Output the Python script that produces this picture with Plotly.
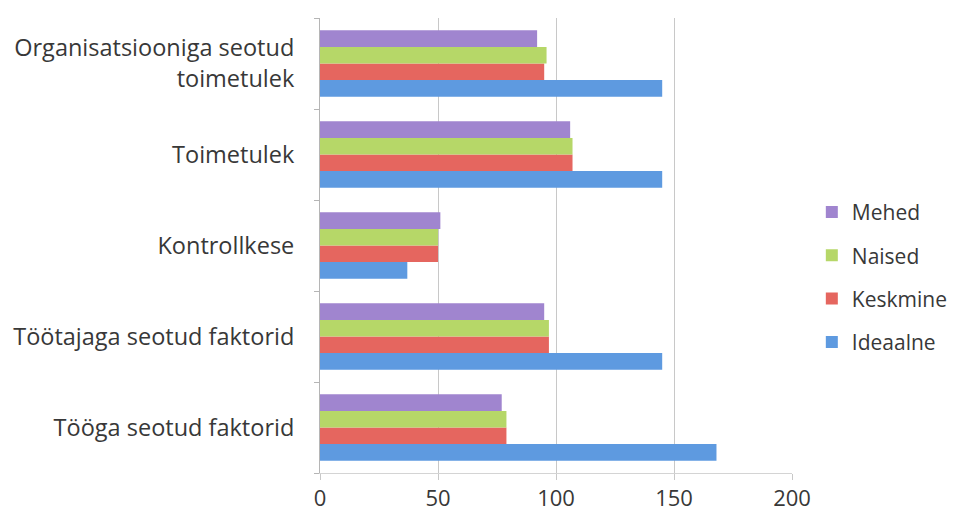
import plotly.graph_objects as go

# Categories listed bottom to top
categories = [
    "Tööga seotud faktorid",
    "Töötajaga seotud faktorid",
    "Kontrollkese",
    "Toimetulek",
    "Organisatsiooniga seotud<br>toimetulek",
]

ideaalne = [168, 145, 37, 145, 145]
keskmine = [79, 97, 50, 107, 95]
naised = [79, 97, 50, 107, 96]
mehed = [77, 95, 51, 106, 92]

# (name, values, colour, legend rank)
series = [
    ("Ideaalne", ideaalne, "#5e9ae0", 4),
    ("Keskmine", keskmine, "#e5665f", 3),
    ("Naised", naised, "#b6d768", 2),
    ("Mehed", mehed, "#a085cf", 1),
]

font_family = "'Open Sans', sans-serif"
text_color = "#383838"

fig = go.Figure()
for name, values, color, rank in series:
    fig.add_trace(go.Bar(
        y=categories,
        x=values,
        name=name,
        orientation="h",
        legendgroup=name,
        legendrank=rank,
        marker=dict(color=color, line=dict(width=0)),
    ))

fig.update_layout(
    width=972,
    height=529,
    barmode="group",
    bargap=0.27,
    bargroupgap=0,
    paper_bgcolor="white",
    plot_bgcolor="white",
    margin=dict(l=320, r=180, t=18, b=56),
    font=dict(family=font_family, size=21, color=text_color),
    legend=dict(
        traceorder="grouped",
        tracegroupgap=13,
        x=1.042,
        xanchor="left",
        y=0.43,
        yanchor="middle",
        font=dict(size=21, color=text_color),
        itemwidth=30,
    ),
    xaxis=dict(
        range=[0, 200],
        tickvals=[0, 50, 100, 150, 200],
        showgrid=True,
        gridcolor="#c8c8c8",
        gridwidth=1,
        zeroline=False,
        showline=True,
        linecolor="#d4d4d4",
        linewidth=1,
        ticks="outside",
        ticklen=6,
        tickcolor="#c8c8c8",
        tickfont=dict(size=22, color=text_color),
        fixedrange=True,
    ),
    yaxis=dict(
        showline=True,
        linecolor="#b5b5b5",
        linewidth=1,
        ticks="outside",
        ticklen=5,
        tickcolor="#b5b5b5",
        tickson="boundaries",
        ticklabelstandoff=20,
        showgrid=False,
        tickfont=dict(size=23.5, color=text_color),
        fixedrange=True,
    ),
)

fig.write_html("out.html")
